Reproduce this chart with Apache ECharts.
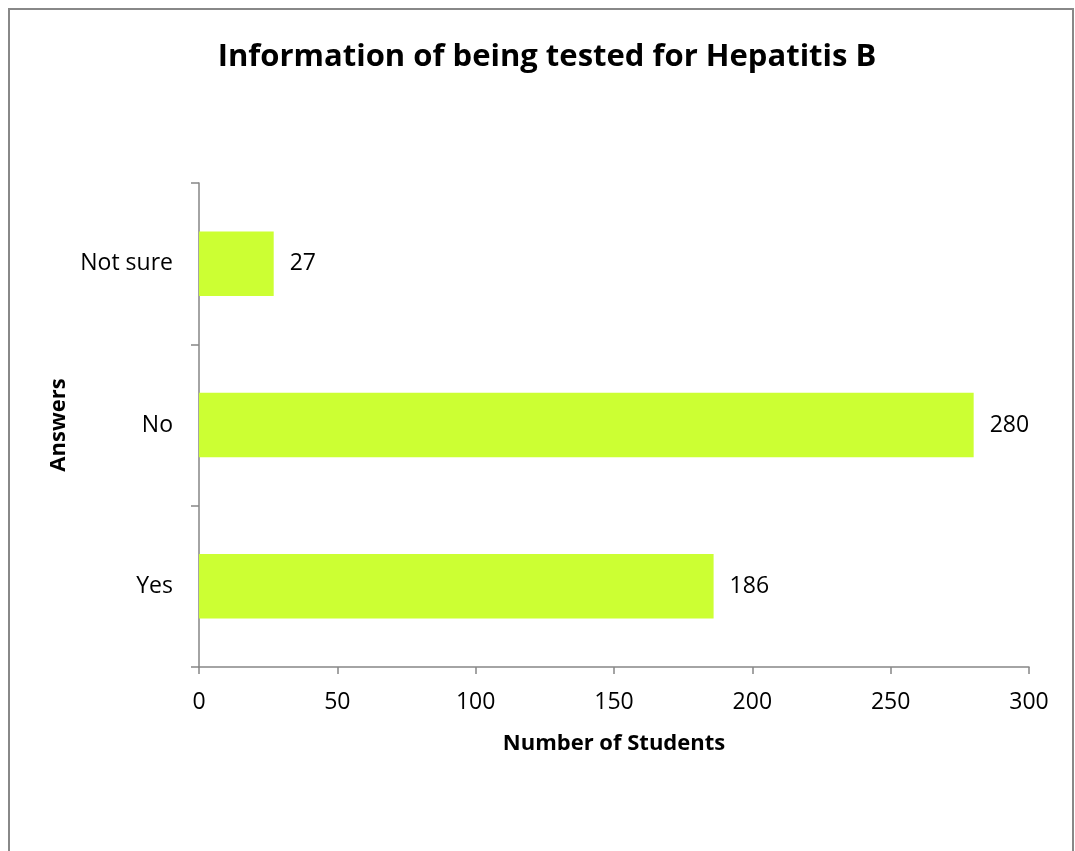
<!DOCTYPE html>
<html>
<head>
<meta charset="utf-8">
<script src="https://cdn.jsdelivr.net/npm/echarts@6/dist/echarts.min.js"></script>
<style>
  html, body { margin: 0; padding: 0; background: #fff; }
  #chart { width: 1075px; height: 851px; }
</style>
</head>
<body>
<div id="chart"></div>
<script>
// Survey answers and student counts
const answers = ['Yes', 'No', 'Not sure'];
const students = [186, 280, 27];
const xTicks = [0, 50, 100, 150, 200, 250, 300];

const FONT = '"Open Sans", "Liberation Sans", sans-serif';
const AXIS_COLOR = '#868686';

const chart = echarts.init(document.getElementById('chart'), null, { renderer: 'canvas' });

chart.setOption({
  backgroundColor: '#ffffff',
  animation: false,
  title: {
    text: 'Information of being tested for Hepatitis B',
    left: 542,
    textAlign: 'center',
    top: 37,
    textStyle: { fontFamily: FONT, fontWeight: 'bold', fontSize: 31, color: '#000' }
  },
  graphic: [{
    type: 'rect',
    shape: { x: 9, y: 9, width: 1064, height: 860 },
    style: { fill: 'none', stroke: '#888888', lineWidth: 2 },
    silent: true
  }],
  grid: { left: 199, right: 46, top: 183, bottom: 184, containLabel: false },
  xAxis: {
    type: 'value',
    min: xTicks[0],
    max: xTicks[xTicks.length - 1],
    interval: xTicks[1] - xTicks[0],
    name: 'Number of Students',
    nameLocation: 'middle',
    nameGap: 66,
    nameTextStyle: { fontFamily: FONT, fontWeight: 'bold', fontSize: 22, color: '#000' },
    axisLine: { show: true, lineStyle: { color: AXIS_COLOR, width: 1.5 } },
    axisTick: { show: true, length: 7, lineStyle: { color: AXIS_COLOR, width: 1.5 } },
    axisLabel: { margin: 24, fontFamily: FONT, fontSize: 23, color: '#000' },
    splitLine: { show: false }
  },
  yAxis: {
    type: 'category',
    data: answers,
    name: 'Answers',
    nameLocation: 'middle',
    nameGap: 128,
    nameRotate: 90,
    nameTextStyle: { fontFamily: FONT, fontWeight: 'bold', fontSize: 22, color: '#000' },
    axisLine: { show: true, lineStyle: { color: AXIS_COLOR, width: 1.5 } },
    axisTick: { show: true, length: 8, alignWithLabel: false, lineStyle: { color: AXIS_COLOR, width: 1.5 } },
    axisLabel: { margin: 26, fontFamily: FONT, fontSize: 23, color: '#000' },
    splitLine: { show: false }
  },
  series: [{
    type: 'bar',
    data: students,
    barCategoryGap: '60%',
    itemStyle: { color: '#ccff33' },
    label: {
      show: true,
      position: 'right',
      distance: 16,
      fontFamily: FONT,
      fontSize: 23,
      color: '#000'
    }
  }]
});
</script>
</body>
</html>
